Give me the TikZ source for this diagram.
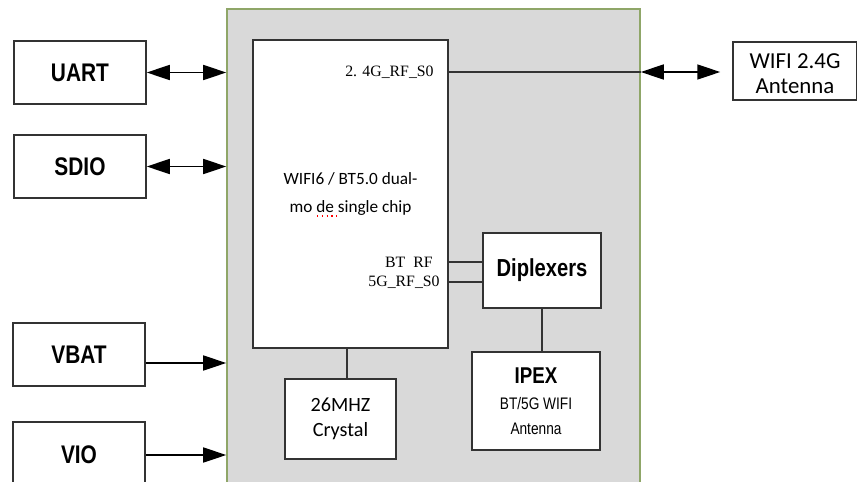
\documentclass[tikz,border=0pt]{standalone}
\usepackage{fontspec}
\usepackage{tikz}
\usetikzlibrary{positioning, arrows.meta}
\setmainfont{Carlito}
\newfontfamily\narrowfont[FakeStretch=0.82]{Liberation Sans}
\newfontfamily\pinfont{Liberation Serif}
\definecolor{modgray}{RGB}{217,217,217}
\definecolor{modgreen}{RGB}{143,166,104}
\definecolor{boxline}{RGB}{51,51,51}

\begin{document}
\begin{tikzpicture}[
    x=0.2mm, y=-0.2mm,
    tri/.tip={Triangle[length=4.6mm, width=3mm, fill=black]},
    box/.style={draw=boxline, line width=0.3mm, fill=white, align=center, inner sep=0pt},
    iface/.style={box, minimum width=26.4mm, minimum height=12.6mm, font=\narrowfont\bfseries\fontsize{14.5}{16}\selectfont},
    pin/.style={font=\pinfont\fontsize{9}{10}\selectfont, inner sep=0pt, anchor=east},
    wire/.style={draw=boxline, line width=0.3mm},
    dbl/.style={draw=black, line width=0.3mm, tri-tri},
    sgl/.style={draw=black, line width=0.3mm, -tri}
]
\useasboundingbox (0,0) rectangle (857,481);
\clip (0,0) rectangle (857,481);

\node[draw=modgreen, fill=modgray, line width=0.3mm, minimum width=82.6mm, minimum height=98.2mm, inner sep=0pt] (module) at (433.5,254.5) {};
\node[box, minimum width=39mm, minimum height=61.6mm, font=\fontsize{9.8}{16}\selectfont] (chip) at (350.5,194) {WIFI6 / BT5.0 dual-\\mo de single chip};
\draw[red, dotted, line width=0.25mm] (317,216) -- (337,216);

\node[pin] (p24) at (434,72) {2. 4G\_RF\_S0};
\node[pin] (pbt) at (433,262) {BT\ \ RF};
\node[pin] (p5g) at (440,282) {5G\_RF\_S0};

\node[box, minimum width=24.8mm, minimum height=11.6mm] (ant) at (795,71) {};
\node[align=center, inner sep=0pt, font=\fontsize{13}{14.2}\selectfont] (anttxt) at ([yshift=-0.6mm]ant.center) {WIFI 2.4G\\Antenna};
\node[box, minimum width=23.6mm, minimum height=15mm, font=\narrowfont\bfseries\fontsize{14}{16}\selectfont] (dip) at (542,270.5) {Diplexers};
\node[box, minimum width=25.6mm, minimum height=19.6mm, font=\narrowfont\fontsize{9.5}{14}\selectfont] (ipex) at (536,401) {{\bfseries\fontsize{13}{14}\selectfont IPEX}\\[1pt]BT/5G WIFI\\Antenna};
\node[box, minimum width=22.2mm, minimum height=16mm, font=\fontsize{11.5}{14.2}\selectfont] (crys) at (340.5,419) {26MHZ\\Crystal};

\node[iface] (uart) at (80,72.5) {UART};
\node[iface] (sdio) at (80,166.5) {SDIO};
\node[iface] (vbat) at (79,354.5) {VBAT};
\node[iface, minimum height=13.2mm] (vio) at (79,455) {VIO};

\draw[dbl] (uart.east) -- (uart.east -| module.west);
\draw[dbl] (sdio.east) -- (sdio.east -| module.west);
\draw[sgl] ([yshift=-1.7mm]vbat.east) -- ([yshift=-1.7mm]vbat.east -| module.west);
\draw[sgl] (vio.east) -- (vio.east -| module.west);

\draw[wire] (p24 -| chip.east) -- (p24 -| module.east);
\draw[dbl, shorten >=2.4mm] (p24 -| module.east) -- (p24 -| ant.west);
\draw[wire] (pbt -| chip.east) -- (pbt -| dip.west);
\draw[wire] (p5g -| chip.east) -- (p5g -| dip.west);
\draw[wire] ([xshift=-0.7mm]chip.south) -- ([xshift=-0.7mm]chip.south |- crys.north);
\draw[wire] (dip.south) -- (dip.south |- ipex.north);
\end{tikzpicture}
\end{document}
